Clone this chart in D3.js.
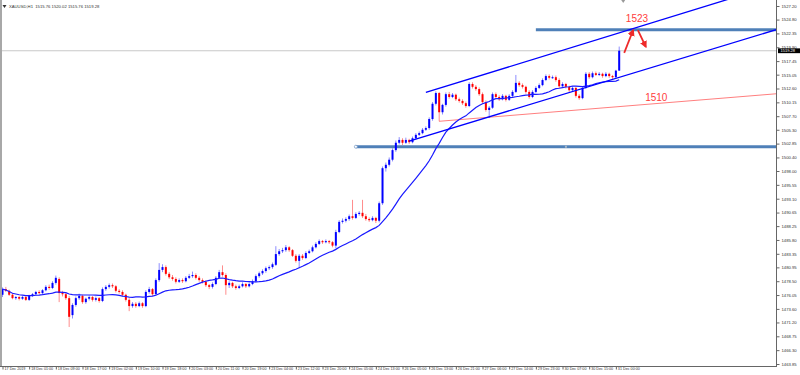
<!DOCTYPE html>
<html><head><meta charset="utf-8">
<script src="https://cdn.jsdelivr.net/npm/d3@7"></script>
<style>html,body{margin:0;padding:0;background:#fff;overflow:hidden}</style>
</head><body>
<svg id="chart" width="800" height="375"></svg>
<script>
const opens = [1476.1,1477.1,1476.8,1476.1,1475.5,1475.7,1475.4,1475.7,1475.2,1475.9,1476.2,1476.6,1476.4,1476.9,1477.5,1477.3,1478.2,1478.9,1476.4,1476.2,
1475.5,1472.5,1474.3,1475.5,1475.9,1474.8,1475.4,1475.7,1475.2,1475.5,1475.0,1477.1,1477.5,1477.8,1477.6,1476.8,1476.6,1476.1,1475.2,1474.1,
1474.5,1474.1,1474.6,1474.1,1476.6,1477.1,1476.2,1478.7,1480.5,1481.0,1479.8,1479.2,1478.9,1478.4,1478.7,1478.5,1479.1,1479.4,1479.6,1479.1,
1478.7,1478.4,1477.8,1477.5,1478.0,1479.1,1480.1,1479.6,1477.8,1478.2,1477.6,1477.3,1477.6,1478.0,1477.6,1478.0,1478.5,1479.4,1479.9,1480.3,
1480.8,1481.0,1481.4,1483.3,1483.8,1484.0,1484.5,1484.0,1483.0,1482.1,1483.0,1482.6,1483.5,1483.8,1484.5,1485.1,1485.6,1485.4,1485.6,1485.4,
1484.8,1487.2,1489.0,1489.2,1489.5,1490.0,1489.7,1490.4,1490.6,1490.0,1489.5,1489.3,1489.7,1489.2,1492.3,1498.5,1499.1,1500.0,1501.7,1503.0,
1503.5,1503.0,1503.5,1503.1,1503.8,1504.4,1504.7,1505.3,1505.6,1507.2,1509.9,1511.8,1508.4,1509.7,1511.6,1511.1,1511.5,1510.7,1510.4,1510.0,
1509.5,1513.4,1512.9,1512.5,1511.6,1510.2,1508.8,1509.2,1511.6,1511.1,1510.7,1511.3,1510.6,1511.3,1512.0,1513.6,1513.2,1512.9,1512.0,1511.1,
1512.0,1512.7,1513.2,1514.1,1514.8,1514.5,1514.6,1514.1,1513.0,1513.4,1512.9,1512.3,1512.7,1511.3,1510.9,1512.7,1515.2,1514.6,1515.3,1515.0,
1515.2,1514.8,1515.2,1514.8,1514.6,1515.76];
const highs = [1477.4,1477.5,1477.0,1476.4,1475.9,1475.9,1475.9,1475.9,1476.1,1476.4,1476.8,1476.9,1477.1,1477.8,1477.9,1478.5,1479.5,1479.2,1476.8,1476.5,
1475.9,1474.6,1475.8,1476.3,1476.1,1475.6,1476.0,1475.9,1475.8,1475.7,1477.4,1477.8,1478.1,1478.1,1477.8,1477.1,1476.9,1476.3,1475.5,1474.8,
1474.8,1474.9,1474.8,1476.9,1477.5,1477.3,1479.0,1481.7,1481.5,1481.3,1480.1,1479.6,1479.2,1479.0,1479.0,1479.4,1479.8,1480.2,1479.9,1479.4,
1479.0,1478.7,1478.0,1478.3,1479.4,1480.5,1481.3,1479.9,1478.5,1478.4,1477.9,1477.9,1478.3,1478.2,1478.3,1478.8,1479.7,1480.2,1480.6,1481.1,
1481.3,1481.8,1484.7,1484.2,1484.4,1484.9,1484.7,1484.2,1483.3,1483.3,1483.3,1483.8,1484.1,1484.8,1485.4,1485.9,1485.8,1485.9,1485.8,1485.6,
1487.6,1489.3,1489.6,1489.8,1490.3,1492.9,1490.7,1490.9,1492.9,1490.4,1489.8,1490.0,1489.9,1492.6,1498.8,1499.5,1500.4,1502.0,1503.4,1504.0,
1503.8,1503.9,1503.7,1504.1,1504.7,1505.0,1505.6,1505.9,1507.5,1510.2,1512.1,1512.0,1509.9,1511.9,1512.0,1511.8,1511.7,1511.0,1510.7,1510.3,
1513.7,1513.7,1513.2,1512.8,1511.9,1510.5,1509.5,1511.9,1511.9,1511.4,1511.6,1511.5,1511.6,1512.3,1515.0,1513.9,1513.5,1513.1,1512.3,1512.3,
1513.0,1513.5,1514.4,1515.1,1515.1,1514.9,1514.9,1514.4,1513.7,1513.6,1513.1,1513.0,1512.9,1511.6,1512.9,1515.5,1515.5,1515.6,1515.6,1515.5,
1515.4,1515.5,1515.4,1515.0,1515.9,1520.02];
const lows = [1475.7,1476.6,1475.9,1475.3,1475.2,1475.1,1475.2,1475.0,1475.0,1475.7,1476.0,1476.2,1476.2,1476.7,1477.0,1477.1,1477.9,1474.8,1475.8,1475.2,
1470.4,1471.9,1474.0,1475.2,1474.5,1474.5,1475.1,1474.9,1474.9,1474.7,1474.8,1476.8,1477.2,1477.3,1476.5,1476.3,1475.8,1474.9,1473.2,1473.8,
1473.8,1473.9,1473.8,1473.9,1476.3,1475.9,1476.0,1478.4,1480.1,1479.5,1478.9,1478.6,1478.1,1478.2,1478.2,1478.3,1478.9,1479.1,1478.8,1478.4,
1478.1,1477.5,1477.1,1477.2,1477.8,1478.9,1479.3,1476.1,1477.3,1477.3,1477.0,1477.1,1477.4,1477.3,1477.4,1477.8,1478.3,1479.1,1479.6,1480.0,
1480.5,1480.7,1481.2,1483.0,1483.5,1483.7,1483.7,1482.8,1481.8,1480.8,1482.3,1482.4,1483.3,1483.6,1484.3,1484.9,1485.1,1485.2,1485.1,1484.5,
1484.3,1487.0,1488.7,1488.9,1489.2,1489.4,1489.5,1490.1,1489.7,1489.2,1489.0,1489.1,1488.8,1488.9,1492.0,1497.9,1498.8,1499.7,1501.4,1502.7,
1502.6,1502.8,1502.8,1502.9,1503.6,1504.2,1504.5,1505.1,1505.3,1506.9,1509.6,1506.8,1508.0,1509.4,1510.8,1510.9,1510.4,1510.1,1509.7,1509.2,
1509.3,1512.6,1512.2,1511.3,1509.9,1508.5,1507.4,1509.0,1510.8,1510.4,1510.5,1510.3,1510.4,1511.1,1511.8,1512.9,1512.6,1511.7,1510.8,1510.9,
1511.8,1512.5,1513.0,1513.9,1514.2,1514.3,1513.8,1512.7,1512.8,1512.6,1512.0,1512.1,1511.0,1510.6,1510.7,1512.5,1514.3,1514.4,1514.8,1514.8,
1514.5,1514.6,1514.5,1514.3,1514.4,1515.76];
const closes = [1477.1,1476.8,1476.1,1475.5,1475.7,1475.4,1475.7,1475.2,1475.9,1476.2,1476.6,1476.4,1476.9,1477.5,1477.3,1478.2,1479.1,1476.4,1476.2,1475.5,
1472.2,1474.3,1475.5,1475.9,1474.8,1475.4,1475.7,1475.2,1475.5,1475.0,1477.1,1477.5,1477.8,1477.6,1476.8,1476.6,1476.1,1475.2,1474.1,1474.5,
1474.1,1474.6,1474.1,1476.6,1477.1,1476.2,1478.7,1480.5,1481.0,1479.8,1479.2,1478.9,1478.4,1478.7,1478.5,1479.1,1479.4,1479.6,1479.1,1478.7,
1478.4,1477.8,1477.5,1478.0,1479.1,1480.1,1479.6,1477.8,1478.2,1477.6,1477.3,1477.6,1478.0,1477.6,1478.0,1478.5,1479.4,1479.9,1480.3,1480.8,
1481.0,1481.5,1483.3,1483.8,1484.0,1484.5,1484.0,1483.0,1482.1,1483.0,1482.6,1483.5,1483.8,1484.5,1485.1,1485.6,1485.4,1485.6,1485.4,1484.8,
1487.2,1489.0,1489.2,1489.5,1490.0,1489.7,1490.4,1490.6,1490.0,1489.5,1489.3,1489.7,1489.2,1492.3,1498.5,1499.1,1500.0,1501.7,1503.0,1503.5,
1503.0,1503.5,1503.1,1503.8,1504.4,1504.7,1505.3,1505.6,1507.2,1509.9,1511.8,1508.4,1509.7,1511.6,1511.1,1511.5,1510.7,1510.4,1510.0,1509.5,
1513.4,1512.9,1512.5,1511.6,1510.2,1508.8,1509.2,1511.6,1511.1,1510.7,1511.3,1510.6,1511.3,1512.0,1513.6,1513.2,1512.9,1512.0,1511.1,1512.0,
1512.7,1513.2,1514.1,1514.8,1514.5,1514.6,1514.1,1513.0,1513.4,1512.9,1512.3,1512.7,1511.3,1510.9,1512.7,1515.2,1514.6,1515.3,1515.0,1515.2,
1514.8,1515.2,1514.8,1514.6,1515.76,1519.28];

const timeLabels = ["17 Dec 2019","18 Dec 01:00","18 Dec 09:00","18 Dec 17:00","19 Dec 02:00","19 Dec 10:00","19 Dec 18:00","20 Dec 03:00","20 Dec 11:00","20 Dec 19:00","23 Dec 04:00","23 Dec 12:00","23 Dec 20:00","24 Dec 05:00","24 Dec 13:00","26 Dec 05:00","26 Dec 13:00","26 Dec 21:00","27 Dec 06:00","27 Dec 14:00","29 Dec 23:00","30 Dec 07:00","30 Dec 15:00","31 Dec 00:00"];
const timeLabelBars = [0,8,16,24,32,40,48,56,64,72,80,88,96,104,112,120,128,136,144,152,160,168,176,184];
const priceLabels = [1527.20,1524.80,1522.35,1519.90,1517.45,1515.05,1512.60,1510.15,1507.70,1505.30,1502.85,1500.40,1498.00,1495.55,1493.10,1490.65,1488.25,1485.80,1483.35,1480.95,1478.50,1476.05,1473.60,1471.20,1468.75,1466.30,1463.85];

const symbolTitle = "XAUUSD,H1  1515.76 1520.02 1515.76 1519.28";
const lastPrice = 1519.28;
const maPeriod = 20;
const hLevels = [[160, 1523.0],[106, 1502.3]];
const channelLines = [[127,1511.9,160,1517.9],[122,1503.3,165,1511.0]];
const supportRay = [131,1506.8,185,1509.4];
const textNotes = [["1523",187,1524.4],["1510",192.8,1510.4]];
const arrowNotes = [[186.5,1518.9,189.2,1522.95],[190.6,1522.95,193,1519.95]];

const svg = d3.select("#chart");
const W = 800, H = 375, plotR = 776, plotB = 366;
const FONT = "Liberation Sans, Arial, sans-serif";
const x = d3.scaleLinear().domain([0, 185]).range([2.5, 619.2]);
const y = d3.scaleLinear().domain([1463.85, 1527.20]).range([364, 6]);

svg.append("rect").attr("width", W).attr("height", H).attr("fill", "#fff");
const defs = svg.append("defs");
defs.append("clipPath").attr("id","plot").append("rect").attr("x",0).attr("y",0).attr("width",plotR).attr("height",plotB);
defs.append("marker").attr("id","ah").attr("viewBox","0 0 10 10").attr("refX",8).attr("refY",5)
  .attr("markerWidth",4).attr("markerHeight",4).attr("orient","auto")
  .append("path").attr("d","M0,0L10,5L0,10z").attr("fill","#ee2a2a");

const g = svg.append("g").attr("clip-path","url(#plot)");

g.append("line").attr("x1",0).attr("x2",plotR).attr("y1",y(lastPrice)).attr("y2",y(lastPrice)).attr("stroke","#c8c8c8").attr("stroke-width",1);

hLevels.forEach(([b,p]) => {
  g.append("line").attr("x1",x(b)).attr("x2",plotR).attr("y1",y(p)).attr("y2",y(p)).attr("stroke","#4f80b8").attr("stroke-width",3);
});
svg.append("circle").attr("cx",x(hLevels[1][0])).attr("cy",y(hLevels[1][1])).attr("r",1.5).attr("fill","#fff").attr("stroke","#7a9cc6").attr("stroke-width",0.8);
svg.append("rect").attr("x",x(hLevels[1][0]) + (plotR - x(hLevels[1][0]))/2 - 1).attr("y",y(hLevels[1][1])-1).attr("width",2).attr("height",2).attr("fill","#aab8c8");

function ray(a, color, w) {
  const [b1,p1,b2,p2] = a;
  const slope = (p2-p1)/(b2-b1);
  const bEnd = x.invert(plotR + 10);
  g.append("line").attr("x1",x(b1)).attr("y1",y(p1)).attr("x2",x(bEnd)).attr("y2",y(p1 + slope*(bEnd-b1)))
    .attr("stroke",color).attr("stroke-width",w);
}
ray(supportRay, "#ff7f7f", 1);

const idx = d3.range(closes.length);
g.append("g").selectAll("line").data(idx).join("line")
  .attr("x1", i => x(i)).attr("x2", i => x(i))
  .attr("y1", i => y(highs[i])).attr("y2", i => y(lows[i]))
  .attr("stroke", i => closes[i] >= opens[i] ? "#0000ff" : "#ff0000")
  .attr("stroke-opacity", 0.45).attr("stroke-width", 1);
g.append("g").selectAll("rect").data(idx).join("rect")
  .attr("x", i => x(i) - 1).attr("width", 2)
  .attr("y", i => y(Math.max(opens[i], closes[i])))
  .attr("height", i => Math.max(1, Math.abs(y(opens[i]) - y(closes[i]))))
  .attr("fill", i => closes[i] >= opens[i] ? "#0000ff" : "#ff0000");

const ma = idx.map(i => d3.mean(closes.slice(Math.max(0, i - maPeriod + 1), i + 1)));
g.append("path").datum(idx).attr("fill","none").attr("stroke","#1a1aff").attr("stroke-width",1.2)
  .attr("d", d3.line().x(i => x(i)).y(i => y(ma[i])));

channelLines.forEach(c => ray(c, "#0000ff", 1.3));

textNotes.forEach(([t,b,p]) => {
  svg.append("text").attr("x", x(b)).attr("y", y(p)).text(t)
    .attr("fill","#ff3c3c").attr("font-family",FONT).attr("font-size",10);
});
arrowNotes.forEach(([b1,p1,b2,p2]) => {
  svg.append("line").attr("x1",x(b1)).attr("y1",y(p1)).attr("x2",x(b2)).attr("y2",y(p2))
    .attr("stroke","#ee2a2a").attr("stroke-width",1.8).attr("marker-end","url(#ah)");
});

const sx = x(186.2);
svg.append("path").attr("d", `M${sx-2},0L${sx+2},0L${sx},3Z`).attr("fill","#999");

svg.append("rect").attr("x",0).attr("y",0).attr("width",2).attr("height",plotB).attr("fill","#a8a8a8");

svg.append("line").attr("x1",plotR+0.5).attr("x2",plotR+0.5).attr("y1",0).attr("y2",plotB).attr("stroke","#666");
svg.append("line").attr("x1",0).attr("x2",plotR+1).attr("y1",plotB+0.5).attr("y2",plotB+0.5).attr("stroke","#666");

const yAxis = d3.axisRight(y).tickValues(priceLabels).tickFormat(d3.format(".2f")).tickSize(3).tickPadding(2);
const ya = svg.append("g").attr("transform",`translate(${plotR+0.5},0)`).call(yAxis);
ya.select(".domain").remove();
ya.selectAll("line").attr("stroke","#666");
ya.selectAll("text").attr("font-family",FONT).attr("font-size",4.2).attr("fill","#333");

const xAxis = d3.axisBottom(x).tickValues(timeLabelBars).tickFormat((d,i) => timeLabels[i]).tickSize(3).tickPadding(0);
const xa = svg.append("g").attr("transform",`translate(0,${plotB+0.5})`).call(xAxis);
xa.select(".domain").remove();
xa.selectAll("line").attr("stroke","#666");
xa.selectAll("text").attr("text-anchor","start").attr("dx",1.5).attr("dy","-0.2em").attr("y",4)
  .attr("font-family",FONT).attr("font-size",3.7).attr("fill","#333");

// current price tag (drawn over the axis, as in the terminal)
svg.append("rect").attr("x",plotR+2).attr("y",y(lastPrice)-2.4).attr("width",22).attr("height",4.8).attr("fill","#000");
svg.append("text").attr("x",plotR+4.5).attr("y",y(lastPrice)+1.4).text(d3.format(".2f")(lastPrice))
  .attr("fill","#fff").attr("font-family",FONT).attr("font-size",4.0);

svg.append("path").attr("d","M2.5,5L6.5,5L4.5,8Z").attr("fill","#333");
svg.append("text").attr("x",9).attr("y",8).text(symbolTitle).style("white-space","pre")
  .attr("font-family",FONT).attr("font-size",4.2).attr("fill","#333");
</script>
</body></html>
